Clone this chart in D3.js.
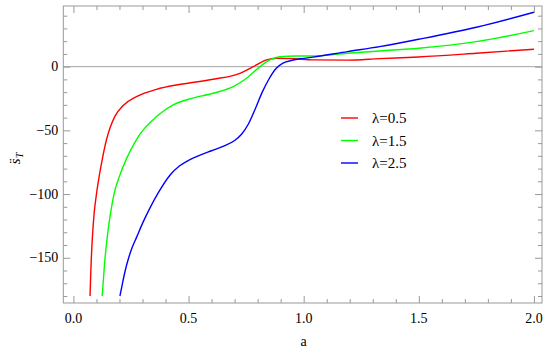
<!DOCTYPE html>
<html>
<head>
<meta charset="utf-8">
<script src="https://cdn.jsdelivr.net/npm/d3@7"></script>
<style>
	body { margin: 0; background: #fff; }
	svg { display: block; }
</style>
</head>
<body>
<svg id="svg"></svg>
<script>
// values: [a, s̈_T]
const red = [[0.072,-180],[0.076,-158],[0.082,-135],[0.09,-115],[0.1,-100],[0.112,-86],[0.125,-73],
	[0.144,-57],[0.16,-47.5],[0.18,-39],[0.216,-30.5],[0.274,-23.5],[0.361,-17.8],[0.46,-14],[0.607,-9.9],
	[0.723,-5.2],[0.781,0],[0.839,5.3],[0.883,6.6],[0.955,6.3],[1.04,5.3],[1.19,5.1],[1.33,6.3],[1.50,7.6],
	[1.75,10.5],[2.0,13.7]]
const green = [[0.125,-180],[0.135,-155],[0.148,-132],[0.162,-114],[0.177,-99.5],[0.199,-86.5],[0.231,-72],
	[0.262,-61],[0.289,-53],[0.361,-39.2],[0.433,-30],[0.503,-25.4],[0.607,-20.9],[0.694,-15.7],[0.752,-9.1],
	[0.81,0],[0.853,5.3],[0.897,7.8],[0.969,8.4],[1.04,8.4],[1.19,10.5],[1.33,12.3],[1.50,14.4],[1.75,19.6],
	[2.0,28.3]]
const blue = [[0.202,-180],[0.212,-171],[0.225,-160],[0.24,-150],[0.255,-142],[0.274,-134],[0.30,-123],
	[0.332,-111],[0.37,-98.5],[0.42,-85],[0.46,-78],[0.50,-73.5],[0.55,-69.5],[0.60,-66],[0.65,-62.5],
	[0.70,-58],[0.73,-53],[0.76,-45],[0.79,-33],[0.82,-20],[0.85,-9.5],[0.88,-1.5],[0.91,2.7],[0.95,5],
	[1.0,6.5],[1.04,7.5],[1.19,11.8],[1.33,15.7],[1.50,21.5],[1.75,30.9],[2.0,42.7]]

const seriesNames = ['λ=0.5', 'λ=1.5', 'λ=2.5']
const seriesColors = ['#ff0000', '#00ff00', '#0000ff']
const xMajor = [0, 0.5, 1, 1.5, 2]
const yMajor = [-150, -100, -50, 0]

const W = 550, H = 353
const frame = {left: 63.3, right: 542, top: 6, bottom: 303}
const FONT = 'Times New Roman'

const x = d3.scaleLinear().domain([-0.044, 2.035]).range([frame.left, frame.right])
const y = d3.scaleLinear().domain([-185.5, 47.6]).range([frame.bottom, frame.top])

const xMinor = d3.range(0, 2.01, 0.1).map(d => +d.toFixed(1)).filter(d => !xMajor.includes(d))
const yMinor = d3.range(-180, 41, 10).filter(d => !yMajor.includes(d))

const svg = d3.select('#svg').attr('width', W).attr('height', H)

// zero line
svg.append('line')
	.attr('x1', frame.left).attr('x2', frame.right)
	.attr('y1', y(0)).attr('y2', y(0))
	.attr('stroke', '#a6a6a6').attr('stroke-width', 1)

// ticks on all four sides, pointing in; labels drawn as plain text
function ticks(axis, vals, size, tr) {
	const g = svg.append('g').attr('transform', tr)
		.call(axis.tickValues(vals).tickSize(-size).tickFormat(''))
	g.select('.domain').remove()
	g.selectAll('text').remove()
	g.selectAll('line').attr('stroke', '#999')
	return g
}
const bx = `translate(0,${frame.bottom})`, tx = `translate(0,${frame.top})`
const ly = `translate(${frame.left},0)`, ry = `translate(${frame.right},0)`

ticks(d3.axisBottom(x), xMajor, 7, bx)
ticks(d3.axisBottom(x), xMinor, 4, bx)
ticks(d3.axisTop(x), xMajor, 7, tx)
ticks(d3.axisTop(x), xMinor, 4, tx)
ticks(d3.axisLeft(y), yMajor, 7, ly)
ticks(d3.axisLeft(y), yMinor, 4, ly)
ticks(d3.axisRight(y), yMajor, 7, ry)
ticks(d3.axisRight(y), yMinor, 4, ry)

svg.append('g').selectAll('text')
	.data(xMajor)
	.join('text')
	.attr('x', d => x(d))
	.attr('y', frame.bottom + 20)
	.attr('text-anchor', 'middle')
	.attr('font-family', FONT).attr('font-size', 14)
	.text(d3.format('.1f'))

svg.append('g').selectAll('text')
	.data(yMajor)
	.join('text')
	.attr('x', frame.left - 5)
	.attr('y', d => y(d) + 4.5)
	.attr('text-anchor', 'end')
	.attr('font-family', FONT).attr('font-size', 14)
	.text(d3.format('d'))

svg.append('rect')
	.attr('x', frame.left).attr('y', frame.top)
	.attr('width', frame.right - frame.left).attr('height', frame.bottom - frame.top)
	.attr('fill', 'none').attr('stroke', '#999').attr('stroke-width', 1)

// curves
const line = d3.line()
	.curve(d3.curveMonotoneX)
	.x(d => x(d[0]))
	.y(d => y(d[1]))

svg.append('g').selectAll('path')
	.data([red, green, blue])
	.join('path')
	.attr('d', line)
	.attr('fill', 'none')
	.attr('stroke', (d, i) => seriesColors[i])
	.attr('stroke-width', 1.4)

// legend
const leg = svg.append('g').attr('transform', 'translate(341,118)')
seriesNames.forEach((name, i) => {
	const r = leg.append('g').attr('transform', `translate(0,${i * 22.5})`)
	r.append('line').attr('x1', 0).attr('x2', 17).attr('y1', 0).attr('y2', 0)
		.attr('stroke', seriesColors[i]).attr('stroke-width', 1.4)
	r.append('text').attr('x', 31).attr('y', 5)
		.attr('font-family', FONT).attr('font-size', 15)
		.text(name)
})

// axis labels
svg.append('text')
	.attr('x', x(1)).attr('y', 346)
	.attr('text-anchor', 'middle')
	.attr('font-family', FONT).attr('font-size', 14)
	.text('a')

const yl = svg.append('text')
	.attr('transform', `translate(20,${(frame.top + frame.bottom) / 2 + 4}) rotate(-90)`)
	.attr('text-anchor', 'middle')
	.attr('font-family', FONT).attr('font-size', 15)
	.attr('font-style', 'italic')
yl.append('tspan').text('s\u0308')
yl.append('tspan').attr('font-size', 10).attr('dy', 3).text('T')
</script>
</body>
</html>
